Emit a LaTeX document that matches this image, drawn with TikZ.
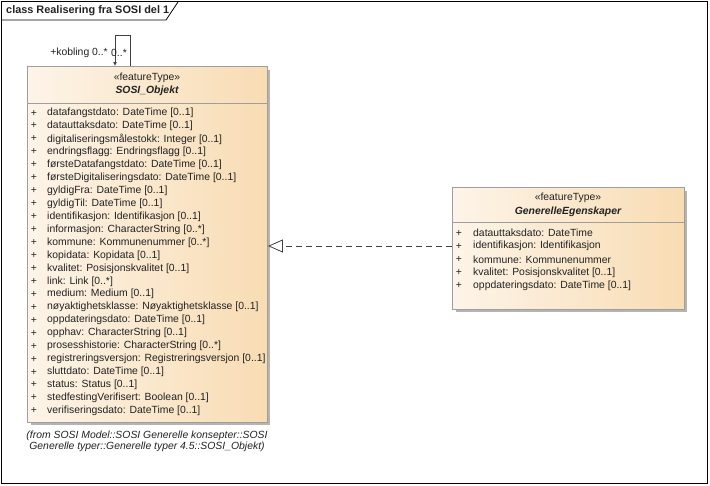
\documentclass[tikz,border=0pt]{standalone}
\usepackage{fontspec}
\setmainfont{Liberation Sans}
\usetikzlibrary{arrows.meta,calc}
\definecolor{boxborder}{HTML}{9E9E9E}
\definecolor{shadowgray}{HTML}{B4B4B4}
\definecolor{fillL}{HTML}{FDF4E8}
\definecolor{fillR}{HTML}{F8DCB3}
\definecolor{txt}{HTML}{222222}
\begin{document}
\begin{tikzpicture}[x=1pt,y=-1pt,
  umlbox/.style={draw=boxborder, line width=0.9pt, left color=fillL, right color=fillR, anchor=north west, inner sep=0pt},
  attr/.style={anchor=west, inner sep=0pt, text=txt, font=\fontsize{10.4}{12}\selectfont},
  plus/.style={anchor=center, inner sep=0pt, text=txt, font=\fontsize{10.4}{12}\selectfont},
  stereo/.style={anchor=center, inner sep=0pt, text=txt, font=\fontsize{10.4}{12}\selectfont},
  cname/.style={anchor=center, inner sep=0pt, text=txt, font=\fontsize{10.4}{12}\selectfont\bfseries\itshape},
  divider/.style={draw=boxborder, line width=0.9pt},
  lbl/.style={inner sep=0pt, text=txt, font=\fontsize{10.4}{12}\selectfont},
  conn/.style={draw=black!75, line width=0.8pt}
]
\useasboundingbox (0,0) rectangle (710,485);
% frame
\draw[line width=0.8pt] (1,1) rectangle (707,483);
\draw[line width=0.8pt] (1,20) -- (166,20) -- (178,2);
\node[lbl, anchor=west, font=\fontsize{10.9}{12}\selectfont\bfseries] (title) at (6,11) {class Realisering fra SOSI del 1};

% shadows
\fill[shadowgray] (31,70) rectangle (270,425);
\fill[shadowgray] (456,191) rectangle (687,312);

% SOSI_Objekt box
\node[umlbox, minimum width=240, minimum height=356] (sosi) at (27,66) {};
\draw[divider] (sosi.west |- 0,103) coordinate (sdl) -- (sosi.east |- 0,103) coordinate (sdr);
\node[stereo] (sst) at (147,78) {«featureType»};
\node[cname] (snm) at (147,91) {SOSI\_Objekt};

\foreach \t [count=\i from 0] in {
 {datafangstdato: DateTime [0..1]},
 {datauttaksdato: DateTime [0..1]},
 {digitaliseringsmålestokk: Integer [0..1]},
 {endringsflagg: Endringsflagg [0..1]},
 {førsteDatafangstdato: DateTime [0..1]},
 {førsteDigitaliseringsdato: DateTime [0..1]},
 {gyldigFra: DateTime [0..1]},
 {gyldigTil: DateTime [0..1]},
 {identifikasjon: Identifikasjon [0..1]},
 {informasjon: CharacterString [0..*]},
 {kommune: Kommunenummer [0..*]},
 {kopidata: Kopidata [0..1]},
 {kvalitet: Posisjonskvalitet [0..1]},
 {link: Link [0..*]},
 {medium: Medium [0..1]},
 {nøyaktighetsklasse: Nøyaktighetsklasse [0..1]},
 {oppdateringsdato: DateTime [0..1]},
 {opphav: CharacterString [0..1]},
 {prosesshistorie: CharacterString [0..*]},
 {registreringsversjon: Registreringsversjon [0..1]},
 {sluttdato: DateTime [0..1]},
 {status: Status [0..1]},
 {stedfestingVerifisert: Boolean [0..1]},
 {verifiseringsdato: DateTime [0..1]}}{
  \node[plus] (sp\i) at (34,{113+\i*12.95}) {+};
  \node[attr] (sa\i) at (47,{113+\i*12.95}) {\t};
}

\node[lbl, font=\fontsize{10.4}{12}\selectfont\itshape, align=center] (sfrom) at (147,441)
 {(from SOSI Model::SOSI Generelle konsepter::SOSI\\[-1pt]Generelle typer::Generelle typer 4.5::SOSI\_Objekt)};

% GenerelleEgenskaper box
\node[umlbox, minimum width=232, minimum height=122] (ge) at (452,187) {};
\draw[divider] (ge.west |- 0,222) -- (ge.east |- 0,222);
\node[stereo] (gst) at (568,198) {«featureType»};
\node[cname] (gnm) at (568,212) {GenerelleEgenskaper};
\foreach \t [count=\i from 0] in {
 {datauttaksdato: DateTime},
 {identifikasjon: Identifikasjon},
 {kommune: Kommunenummer},
 {kvalitet: Posisjonskvalitet [0..1]},
 {oppdateringsdato: DateTime [0..1]}}{
  \node[plus] (gp\i) at (459,{233+\i*13.2}) {+};
  \node[attr] (ga\i) at (473,{233+\i*13.2}) {\t};
}

% realization connector
\coordinate (rl) at (0,246);
\draw[conn, dash pattern=on 6pt off 4pt, -{Triangle[open, length=15pt, width=13pt, fill=white]}]
  (ge.west |- rl) -- (sosi.east |- rl);

% self association
\coordinate (k1) at (130,35);
\coordinate (k2) at (115,35);
\draw[conn, line width=0.9pt, -{Latex[length=4pt, width=4pt]}] (sosi.north -| k1) -- (k1) -- (k2) -- (sosi.north -| k2);
\node[lbl, anchor=east] (kl) at (108,53) {+kobling 0..*};
\node[lbl, anchor=west] (kr) at (111,53) {0..*};
\end{tikzpicture}
\end{document}
